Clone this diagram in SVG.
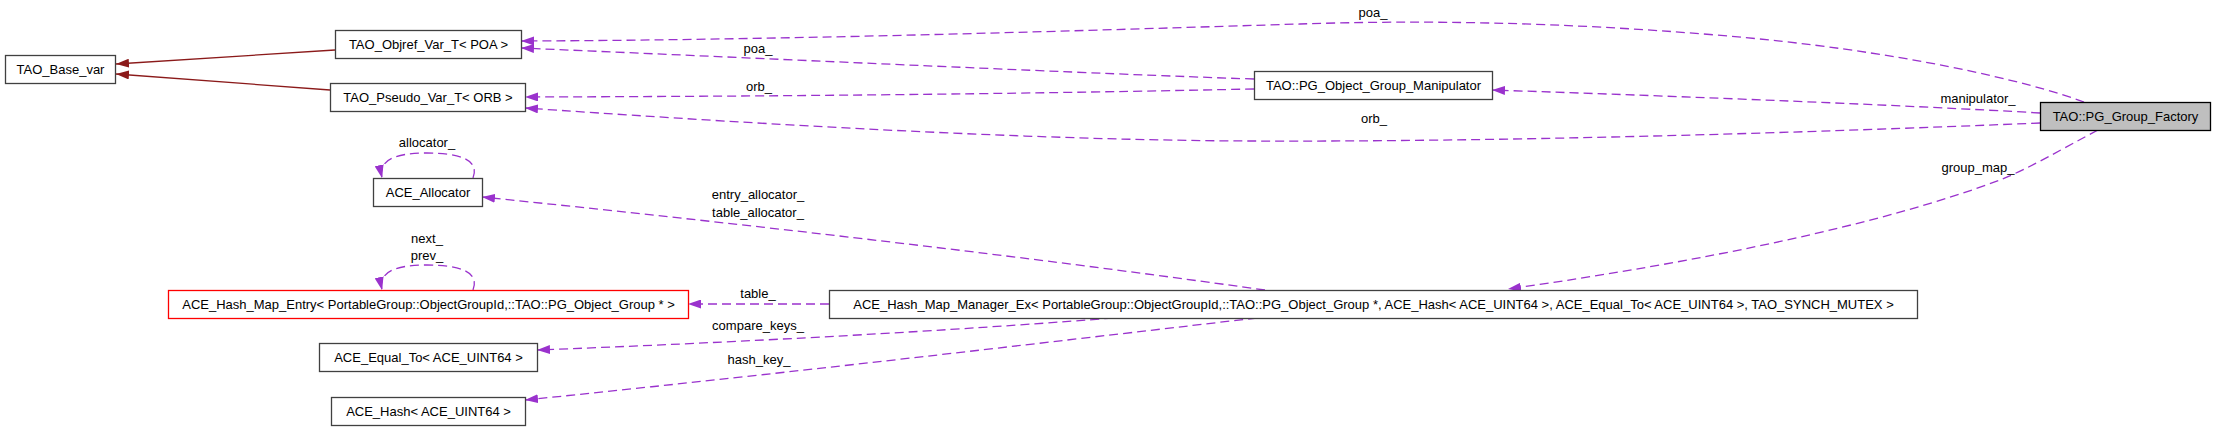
<svg xmlns="http://www.w3.org/2000/svg" width="2216" height="431" viewBox="0 0 2216 431">
<style>
.n rect{fill:#ffffff;stroke:#404040;stroke-width:1.3}
.n.red rect{stroke:#ff0000}
.n.cur rect{fill:#bfbfbf;stroke:#000000}
text{font-family:"Liberation Sans",Arial,Helvetica,sans-serif;font-size:13px;fill:#000000}
.n text{text-anchor:middle}
.e text{text-anchor:middle}
.u{fill:none;stroke:#9a32cd;stroke-width:1.3;stroke-dasharray:9,5;marker-end:url(#ap)}
.i{fill:none;stroke:#8b1a1a;stroke-width:1.3;marker-end:url(#ai)}
</style>
<defs>
<marker id="ap" viewBox="0 0 13 9" refX="13" refY="4.5" markerWidth="13" markerHeight="9" orient="auto" markerUnits="userSpaceOnUse"><path d="M0,0 L13,4.5 L0,9 z" fill="#9a32cd"/></marker>
<marker id="ai" viewBox="0 0 13 9" refX="13" refY="4.5" markerWidth="13" markerHeight="9" orient="auto" markerUnits="userSpaceOnUse"><path d="M0,0 L13,4.5 L0,9 z" fill="#8b1a1a"/></marker>
</defs>
<rect x="0" y="0" width="2216" height="431" fill="#ffffff"/>
<g id="edges" class="e">
<path class="i" d="M335,50 L116,64"/>
<path class="i" d="M330,90 L116,74"/>
<path class="u" d="M2084,102 C2030,82 1900,50 1716,35 C1560,22 1420,20 1300,24 C1100,30 800,40 521,41"/>
<text x="1373" y="17">poa_</text>
<path class="u" d="M1254,79 C1100,74 800,60 521,48"/>
<text x="758" y="53">poa_</text>
<path class="u" d="M1254,89 C1100,92 900,96 525,97"/>
<text x="759" y="91">orb_</text>
<path class="u" d="M2040,123 C1800,133 1500,142 1250,141 C1000,140 700,120 525,108"/>
<text x="1374" y="123">orb_</text>
<path class="u" d="M2040,113 C1900,105 1700,97 1492,90"/>
<text x="1978" y="103">manipulator_</text>
<path class="u" d="M2098,130 C2060,150 2030,168 2000,180 C1880,225 1700,262 1508,289"/>
<text x="1978" y="172">group_map_</text>
<path class="u" d="M473,178 C480,160 460,153 427,153 C395,153 378,160 382,178"/>
<text x="427" y="147">allocator_</text>
<path class="u" d="M473,290 C480,272 460,265 427,265 C395,265 378,272 382,290"/>
<text x="427" y="243">next_</text>
<text x="427" y="260">prev_</text>
<path class="u" d="M1265,290 C1150,274 900,240 482,197"/>
<text x="758" y="199">entry_allocator_</text>
<text x="758" y="217">table_allocator_</text>
<path class="u" d="M829,304 L688,304"/>
<text x="758" y="298">table_</text>
<path class="u" d="M1113,318 C1000,327 800,340 537,350"/>
<text x="758" y="330">compare_keys_</text>
<path class="u" d="M1257,318 C1100,336 800,372 525,400"/>
<text x="759" y="364">hash_key_</text>
</g>
<g id="n_tao_base_var" class="n"><rect x="5.5" y="55.5" width="110" height="28"/><text x="60.5" y="74">TAO_Base_var</text></g>
<g id="n_objref" class="n"><rect x="335.5" y="30.5" width="186" height="28"/><text x="428.5" y="49">TAO_Objref_Var_T&lt; POA &gt;</text></g>
<g id="n_pseudo" class="n"><rect x="330.5" y="83.5" width="195" height="28"/><text x="428" y="102">TAO_Pseudo_Var_T&lt; ORB &gt;</text></g>
<g id="n_allocator" class="n"><rect x="373.5" y="178.5" width="109" height="28"/><text x="428" y="197">ACE_Allocator</text></g>
<g id="n_entry" class="n red"><rect x="168.5" y="290.5" width="520" height="28"/><text x="428.5" y="309">ACE_Hash_Map_Entry&lt; PortableGroup::ObjectGroupId,::TAO::PG_Object_Group * &gt;</text></g>
<g id="n_equal_to" class="n"><rect x="319.5" y="343.5" width="218" height="28"/><text x="428.5" y="362">ACE_Equal_To&lt; ACE_UINT64 &gt;</text></g>
<g id="n_hash" class="n"><rect x="331.5" y="397.5" width="194" height="28"/><text x="428.5" y="416">ACE_Hash&lt; ACE_UINT64 &gt;</text></g>
<g id="n_manipulator" class="n"><rect x="1254.5" y="71.5" width="238" height="28"/><text x="1373.5" y="90">TAO::PG_Object_Group_Manipulator</text></g>
<g id="n_manager" class="n"><rect x="829.5" y="290.5" width="1088" height="28"/><text x="1373.5" y="309">ACE_Hash_Map_Manager_Ex&lt; PortableGroup::ObjectGroupId,::TAO::PG_Object_Group *, ACE_Hash&lt; ACE_UINT64 &gt;, ACE_Equal_To&lt; ACE_UINT64 &gt;, TAO_SYNCH_MUTEX &gt;</text></g>
<g id="n_factory" class="n cur"><rect x="2040.5" y="102.5" width="170" height="28"/><text x="2125.5" y="121">TAO::PG_Group_Factory</text></g>
</svg>
